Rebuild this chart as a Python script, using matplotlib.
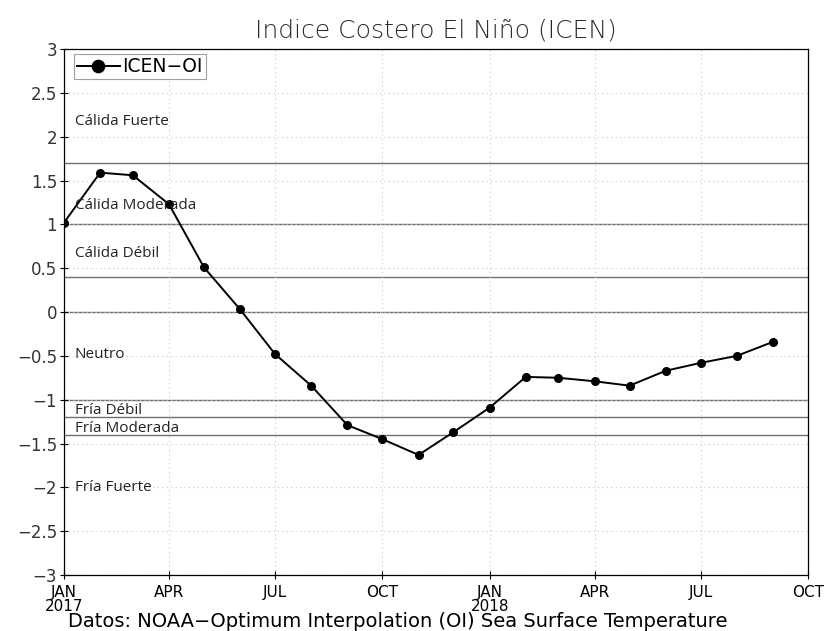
import matplotlib.pyplot as plt
import pandas as pd

# monthly ICEN-OI values, Jan 2017 - Sep 2018
months = pd.date_range("2017-01-01", periods=21, freq="MS")
icen = [1.02, 1.59, 1.56, 1.23, 0.51, 0.03, -0.48, -0.84, -1.29, -1.45, -1.63,
        -1.37, -1.09, -0.74, -0.75, -0.79, -0.84, -0.67, -0.58, -0.50, -0.34]

# category thresholds and labels
thresholds = [1.7, 1.0, 0.4, 0.0, -1.0, -1.2, -1.4]
cat_names = ["Cálida Fuerte", "Cálida Moderada", "Cálida Débil", "Neutro",
             "Fría Débil", "Fría Moderada", "Fría Fuerte"]
cat_y = [2.17, 1.21, 0.67, -0.49, -1.12, -1.33, -2.0]

tick_dates = pd.date_range("2017-01-01", "2018-10-01", freq="3MS")
tick_labels = ["JAN\n2017", "APR", "JUL", "OCT", "JAN\n2018", "APR", "JUL", "OCT"]
y_ticks = [3, 2.5, 2, 1.5, 1, 0.5, 0, -0.5, -1, -1.5, -2, -2.5, -3]
y_labels = ["3", "2.5", "2", "1.5", "1", "0.5", "0", "\u22120.5", "\u22121",
            "\u22121.5", "\u22122", "\u22122.5", "\u22123"]

fig = plt.figure(figsize=(8.27, 6.31), dpi=100)
ax = fig.add_axes([0.0774, 0.0887, 0.8996, 0.8336])

for t in thresholds:
    ax.axhline(t, color="#707070", lw=1.0, zorder=1)

ax.plot(months, icen, color="black", lw=1.4, marker="o", ms=5.5,
        label="ICEN\u2212OI", zorder=3)

for name, y in zip(cat_names, cat_y):
    ax.text(pd.Timestamp("2017-01-10"), y, name, fontsize=11, family="Open Sans",
            va="center", ha="left", color="#222222")

ax.set_xlim(pd.Timestamp("2017-01-01"), pd.Timestamp("2018-10-01"))
ax.set_ylim(-3, 3)
ax.set_xticks(tick_dates)
ax.set_xticklabels(tick_labels, fontsize=11, linespacing=0.9)
ax.set_yticks(y_ticks)
ax.set_yticklabels(y_labels, fontsize=12, color="#333333")
ax.tick_params(axis="both", direction="inout", length=6, width=0.8, pad=2)
ax.tick_params(axis="x", pad=4)
ax.grid(True, color="#c8c8c8", ls=(0, (1, 3)), lw=0.8)
for s in ax.spines.values():
    s.set_linewidth(0.9)

leg = ax.legend(loc="upper left", bbox_to_anchor=(0.008, 0.997), fontsize=13.5,
                frameon=True, fancybox=False, borderpad=0.15, handlelength=2.3,
                handletextpad=0.15, borderaxespad=0.2, markerscale=1.6)
leg.get_frame().set_edgecolor("#888888")
leg.get_frame().set_linewidth(0.8)

fig.text(0.527, 0.952, "Indice Costero El Niño (ICEN)", ha="center", va="center",
         fontsize=18, color="#2a2a2a", fontweight="light")
fig.text(0.481, 0.015, "Datos: NOAA\u2212Optimum Interpolation (OI) Sea Surface Temperature",
         ha="center", va="center", fontsize=14)

fig.savefig("out.png", dpi=100)
